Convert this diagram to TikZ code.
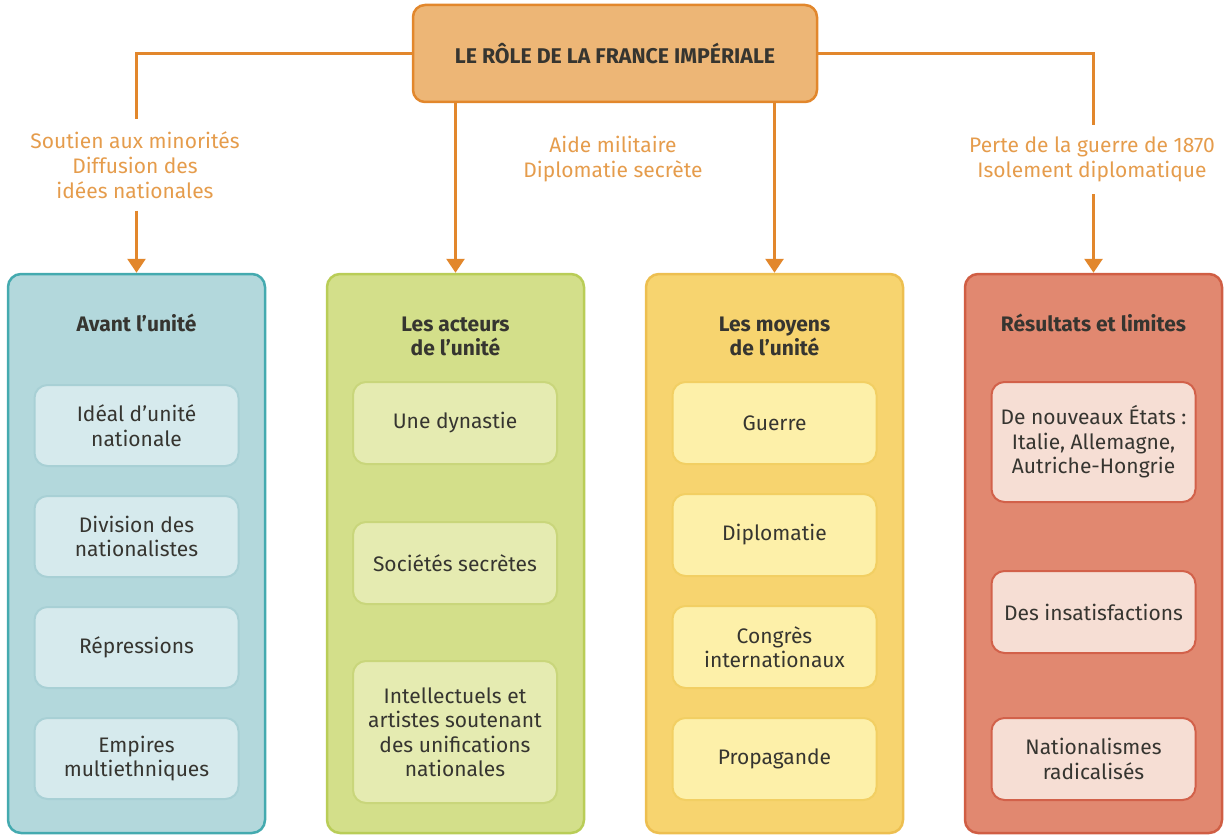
\documentclass[tikz,border=0pt]{standalone}
\usepackage{fontspec}
\setmainfont{Fira Sans}
\usepackage{tikz}
\usetikzlibrary{positioning, arrows.meta, calc}

\definecolor{orangeline}{HTML}{E2872C}
\definecolor{orangetext}{HTML}{E59C4C}
\definecolor{topfill}{HTML}{EDB676}
\definecolor{darktext}{HTML}{363530}
\definecolor{tealfill}{HTML}{B3D8DC}
\definecolor{tealdraw}{HTML}{44AAAF}
\definecolor{tealin}{HTML}{D6EAED}
\definecolor{tealindraw}{HTML}{A8D0D5}
\definecolor{greenfill}{HTML}{D3DF8A}
\definecolor{greendraw}{HTML}{B9CD57}
\definecolor{greenin}{HTML}{E5EBB1}
\definecolor{greenindraw}{HTML}{C9D67B}
\definecolor{yellowfill}{HTML}{F7D46F}
\definecolor{yellowdraw}{HTML}{EDBF50}
\definecolor{yellowin}{HTML}{FDF0A9}
\definecolor{yellowindraw}{HTML}{F2CF63}
\definecolor{redfill}{HTML}{E18870}
\definecolor{reddraw}{HTML}{D05E44}
\definecolor{redin}{HTML}{F6DED4}
\definecolor{redindraw}{HTML}{D2614A}

\newcommand{\bodyfont}{\fontsize{21}{24.5}\selectfont}
\tikzset{
  topbox/.style={rectangle, rounded corners=12pt, draw=orangeline, line width=2.5pt, fill=topfill, minimum width=404pt, minimum height=97pt, text=darktext, font=\fontsize{21.3}{25}\selectfont\bfseries},
  column/.style={rectangle, rounded corners=13pt, line width=2.5pt, minimum width=257pt, minimum height=559pt},
  coltitle/.style={align=center, text=darktext, font=\bodyfont\bfseries},
  itembox/.style={rectangle, rounded corners=13pt, line width=2pt, minimum width=204pt, align=center, text=darktext, font=\bodyfont},
  linklabel/.style={align=center, text=orangetext, font=\fontsize{21}{25}\selectfont, inner ysep=12pt},
  link/.style={orangeline, line width=3pt},
  arrow/.style={link, -{Triangle[width=18pt,length=14pt]}}
}

\begin{document}
\begin{tikzpicture}[x=1pt, y=-1pt]
    \useasboundingbox (0,0) rectangle (1230,837);

    % Titre
    \node[topbox] (top) at (615,53.5) {LE RÔLE DE LA FRANCE IMPÉRIALE};

    % Les quatre colonnes
    \node[column, draw=tealdraw, fill=tealfill] (col1) at (136.5,553.5) {};
    \node[column, draw=greendraw, fill=greenfill] (col2) at (455.5,553.5) {};
    \node[column, draw=yellowdraw, fill=yellowfill] (col3) at (774.5,553.5) {};
    \node[column, draw=reddraw, fill=redfill] (col4) at (1093.5,553.5) {};

    \node[coltitle] (t1) at (136.5,323) {Avant l’unité};
    \node[coltitle] (t2) at (455.5,336.5) {Les acteurs\\de l’unité};
    \node[coltitle] (t3) at (774.5,336.5) {Les moyens\\de l’unité};
    \node[coltitle] (t4) at (1093.5,323) {Résultats et limites};

    % Textes des liens
    \node[linklabel] (lab1) at (135,165) {Soutien aux minorités\\Diffusion des\\idées nationales};
    \node[linklabel] (lab2) at (613,159.5) {Aide militaire\\Diplomatie secrète};
    \node[linklabel] (lab4) at (1092,159.5) {Perte de la guerre de 1870\\Isolement diplomatique};

    % Liens
    \draw[link] (top.west) -| (col1.north |- lab1.north);
    \draw[arrow] (col1.north |- lab1.south) -- (col1.north);
    \draw[arrow] (top.south -| col2.north) -- (col2.north);
    \draw[arrow] (top.south -| col3.north) -- (col3.north);
    \draw[link] (top.east) -| (col4.north |- lab4.north);
    \draw[arrow] (col4.north |- lab4.south) -- (col4.north);

    % Avant l'unite
    \foreach \n/\y/\txt in {1/425.5/{Idéal d’unité\\nationale}, 2/536.5/{Division des\\nationalistes}, 3/647.5/{Répressions}, 4/758.5/{Empires\\multiethniques}} {
        \node[itembox, draw=tealindraw, fill=tealin, minimum height=81pt] (a\n) at (136.5,\y) {\txt};
    }

    % Les acteurs de l'unite
    \node[itembox, draw=greenindraw, fill=greenin, minimum height=82pt] (b1) at (455,423) {Une dynastie};
    \node[itembox, draw=greenindraw, fill=greenin, minimum height=82pt] (b2) at (455,563) {Sociétés secrètes};
    \node[itembox, draw=greenindraw, fill=greenin, minimum height=142pt] (b3) at (455,732) {Intellectuels et\\artistes soutenant\\des unifications\\nationales};

    % Les moyens de l'unite
    \foreach \n/\y/\txt in {1/423/{Guerre}, 2/535/{Diplomatie}, 3/647/{Congrès\\internationaux}, 4/759/{Propagande}} {
        \node[itembox, draw=yellowindraw, fill=yellowin, minimum height=82pt] (c\n) at (774.5,\y) {\txt};
    }

    % Resultats et limites
    \node[itembox, draw=redindraw, fill=redin, minimum height=120pt] (d1) at (1093.5,442) {De nouveaux États :\\Italie, Allemagne,\\Autriche-Hongrie};
    \node[itembox, draw=redindraw, fill=redin, minimum height=82pt] (d2) at (1093.5,612) {Des insatisfactions};
    \node[itembox, draw=redindraw, fill=redin, minimum height=82pt] (d3) at (1093.5,759) {Nationalismes\\radicalisés};

\end{tikzpicture}
\end{document}
